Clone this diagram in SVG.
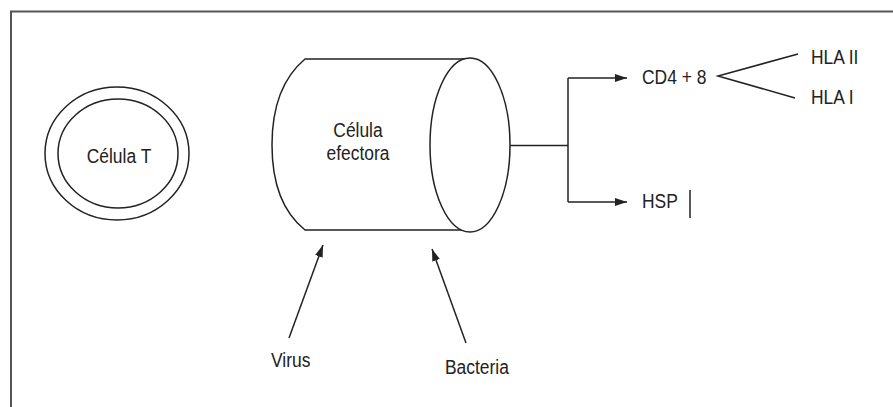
<svg xmlns="http://www.w3.org/2000/svg" width="893" height="407" viewBox="0 0 893 407">
<defs>
<style>
.ln{fill:none;stroke:#222;stroke-width:1.5}
.sh{fill:#fff;stroke:#222;stroke-width:1.5}
.t{font-family:"Liberation Sans",Arial,sans-serif;font-size:21px;fill:#222}
.t2{font-family:"Liberation Sans",Arial,sans-serif;font-size:20px;fill:#222}
</style>
<marker id="ah" viewBox="0 0 12 8" refX="12" refY="4" markerWidth="12" markerHeight="8" markerUnits="userSpaceOnUse" orient="auto">
<path d="M0,0 L12,4 L0,8 Z" fill="#222"/>
</marker>
</defs>
<rect width="893" height="407" fill="#fff"/>
<path d="M11,407 V11.5 H893" fill="none" stroke="#555" stroke-width="2"/>
<g id="celula-t">
<ellipse class="sh" cx="117" cy="153.5" rx="72" ry="66.5"/>
<ellipse class="sh" cx="118" cy="153.5" rx="60" ry="54.5"/>
<text class="t" transform="translate(119,163) scale(0.83,1)" text-anchor="middle">Célula T</text>
</g>
<g id="celula-efectora">
<path class="sh" d="M470,59 H305 C280,80 272,110 272,145 C272,180 280,210 305,230 H470 Z"/>
<ellipse class="sh" cx="470" cy="145" rx="40" ry="87"/>
<text class="t2" transform="translate(358,137) scale(0.87,1)" text-anchor="middle">Célula</text>
<text class="t2" transform="translate(358,160) scale(0.87,1)" text-anchor="middle">efectora</text>
</g>
<g id="cd4">
<text class="t" transform="translate(642,84) scale(0.83,1)">CD4 + 8</text>
</g>
<g id="hla2"><text class="t" transform="translate(811,64) scale(0.83,1)">HLA II</text></g>
<g id="hla1"><text class="t" transform="translate(811,104) scale(0.83,1)">HLA I</text></g>
<g id="hsp">
<text class="t" transform="translate(642,208) scale(0.83,1)">HSP</text>
<line class="ln" x1="690" y1="190" x2="690" y2="218"/>
</g>
<g id="virus"><text class="t" transform="translate(271,367) scale(0.83,1)">Virus</text></g>
<g id="bacteria"><text class="t" transform="translate(445,374) scale(0.83,1)">Bacteria</text></g>
<g id="connectors">
<path class="ln" d="M510,145.5 H568"/>
<path class="ln" d="M568,78 V202"/>
<path class="ln" d="M568,78 H627" marker-end="url(#ah)"/>
<path class="ln" d="M568,202 H627" marker-end="url(#ah)"/>
<path class="ln" d="M798,54 L718,76 L795,98"/>
<path class="ln" d="M289,338 L323,245" marker-end="url(#ah)"/>
<path class="ln" d="M466,343 L432,249" marker-end="url(#ah)"/>
</g>
</svg>
